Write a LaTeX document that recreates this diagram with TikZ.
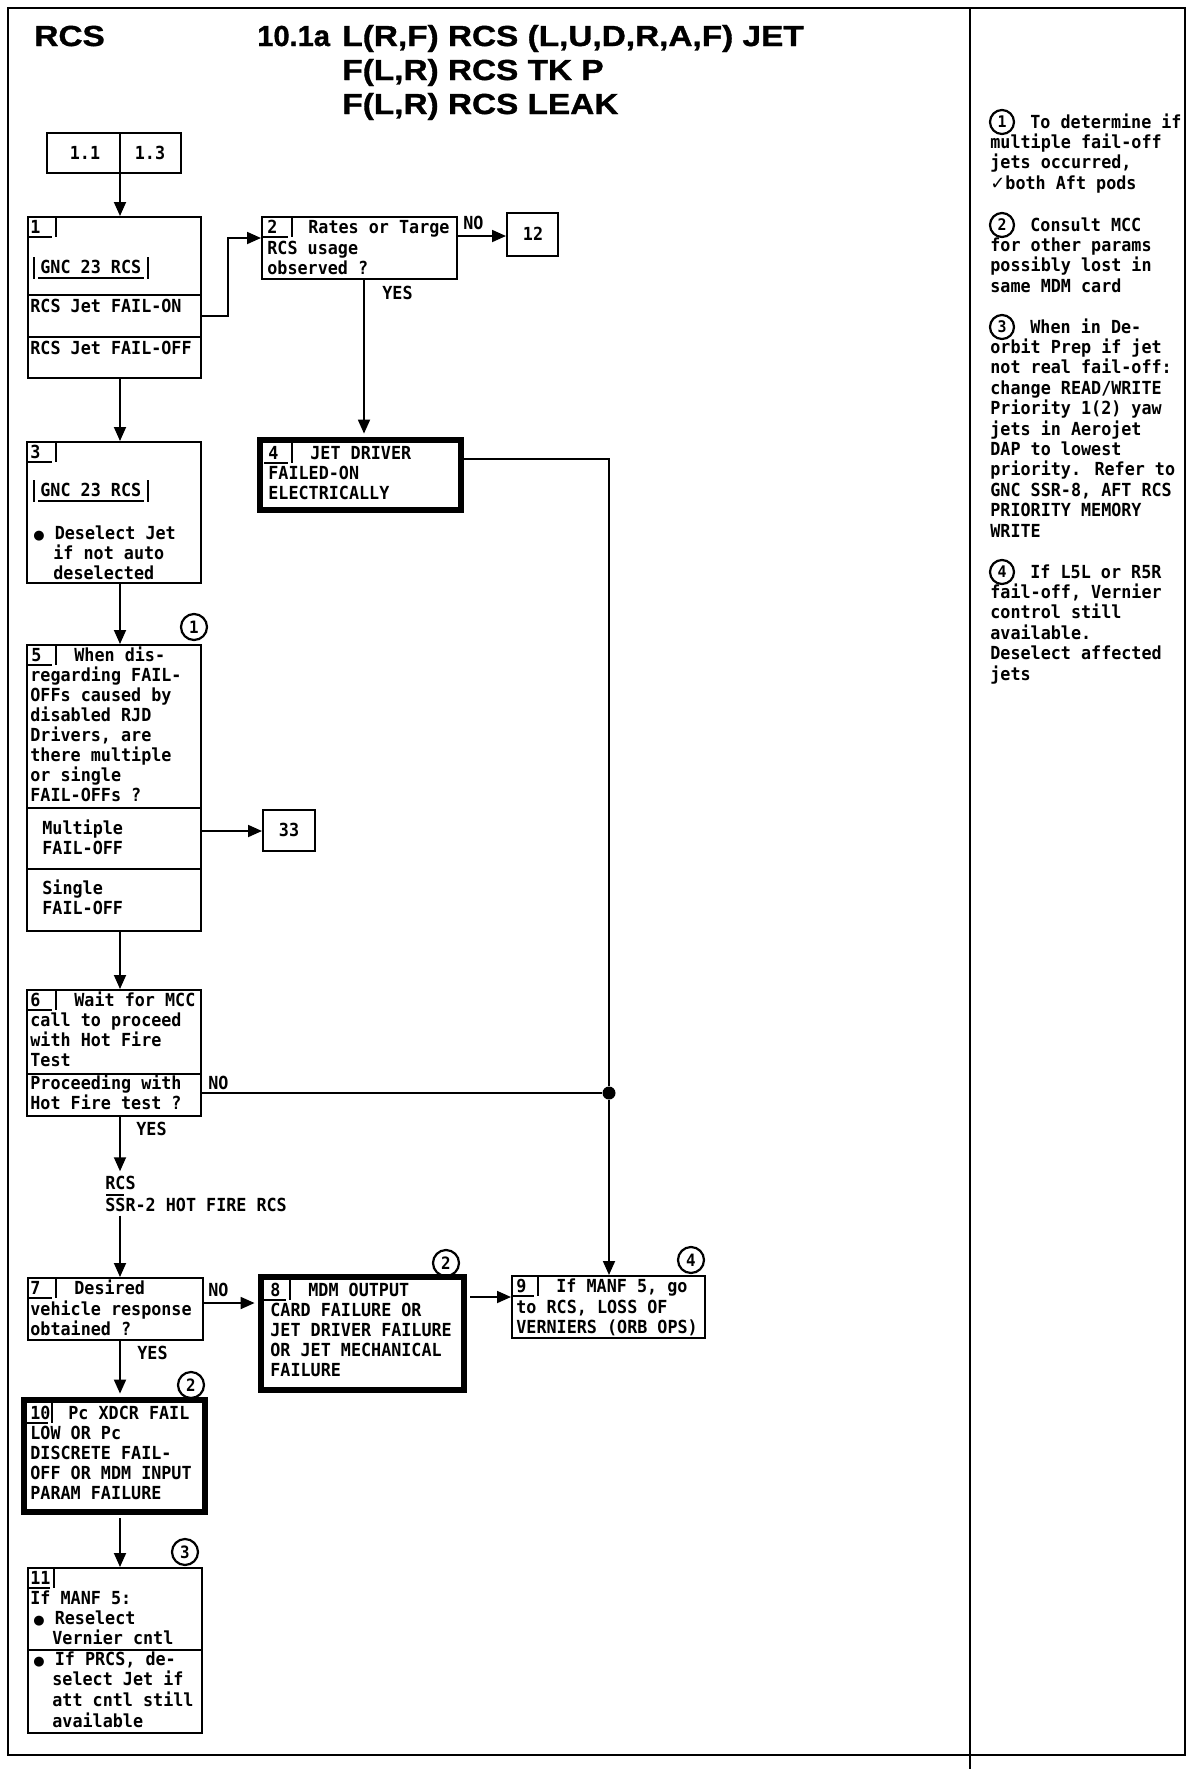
\documentclass[tikz,border=0pt]{standalone}
\usepackage{fontspec}
\usetikzlibrary{arrows.meta,fit}
\newfontfamily\monof[FakeStretch=0.93]{DejaVu Sans Mono}
\newfontfamily\titlew[FakeStretch=1.15,FakeBold=1.2]{Liberation Sans Bold}
\newfontfamily\titlef[FakeBold=1.2]{Liberation Sans Bold}
\newfontfamily\symf{DejaVu Sans}
\newcommand\bul{{\symf\fontsize{6.5}{10}\selectfont ●}}
\newcommand\tlines[5]{\foreach \s [count=\k from 0] in {#5} {\node[txt] (#1\k) at (#2, #3+#4*\k) {\s};}}
\newcommand\steptab[6]{%
  \node[txt] (#1) at (#2, #3+16) {#5};
  \draw[tabl] (#6, #3+20) -- (#4-4, #3+20);
  \draw[tabl] (#4, #3) -- (#4, #3+20);}
\tikzset{
  txt/.style={font=\monof\bfseries\fontsize{9}{10}\selectfont, inner sep=0pt, anchor=base west},
  ctxt/.style={font=\monof\bfseries\fontsize{9}{10}\selectfont, inner sep=0pt},
  ttl/.style={font=\titlew\fontsize{14.5}{17}\selectfont, inner sep=0pt, anchor=base west},
  ttln/.style={font=\titlef\fontsize{14.5}{17}\selectfont, inner sep=0pt, anchor=base west},
  box/.style={draw, line width=1pt, inner sep=0pt},
  thickbox/.style={draw, line width=3.2pt, inner sep=0pt},
  conn/.style={line width=0.9pt},
  arr/.style={conn, -{Triangle[length=7pt,width=6pt]}},
  tabl/.style={line width=0.8pt},
  sepl/.style={line width=1pt},
  circ/.style={circle, draw, line width=1.1pt, minimum size=13pt, inner sep=0pt, font=\monof\bfseries\fontsize{8.5}{10}\selectfont},
  ncirc/.style={circle, draw, line width=1.1pt, minimum size=12pt, inner sep=0pt, font=\monof\bfseries\fontsize{8}{10}\selectfont},
  frame/.style={line width=1.3pt},
}
\begin{document}
\begin{tikzpicture}[x=0.5pt,y=-0.5pt]
\useasboundingbox (0,0) rectangle (1189,1769);
% frame
\draw[frame] (8,8) rectangle (1185,1755);
\draw[frame] (970,8) -- (970,1769);
% title
\node[ttl] (t0) at (34,46) {RCS};
\node[ttln] (t1) at (257,46) {10.1a};
\node[ttl] (t2) at (342,46) {L(R,F) RCS (L,U,D,R,A,F) JET};
\node[ttl] (t3) at (342,80) {F(L,R) RCS TK P};
\node[ttl] (t4) at (342,114) {F(L,R) RCS LEAK};
% helper columns
\coordinate (cx) at (120,0);
\coordinate (cy) at (364,0);
% entry box
\node[box, fit={(47,133) (181,173)}] (bA) {};
\draw[box] (bA.north -| cx) -- (bA.south -| cx);
\node[ctxt] (bA1) at (85,153) {1.1};
\node[ctxt] (bA2) at (150,153) {1.3};
% box 1
\node[box, fit={(28,217) (201,378)}] (b1) {};
\steptab{b1n}{30}{217}{56}{1}{28}
\node[txt] (g1) at (40,273) {GNC 23 RCS};
\draw[tabl] (34,257) -- (34,279);
\draw[tabl] (148,257) -- (148,279);
\draw[tabl] (38,278) -- (144,278);
\draw[sepl] (b1.west |- 0,295) -- (b1.east |- 0,295);
\node[txt] (b1r1) at (30,312) {RCS Jet FAIL-ON};
\draw[sepl] (b1.west |- 0,337) -- (b1.east |- 0,337);
\node[txt] (b1r2) at (30,354) {RCS Jet FAIL-OFF};
% box 2
\node[box, fit={(262,217) (457,279)}] (b2) {};
\steptab{b2n}{267}{217}{292}{2}{262}
\node[txt] (b2a) at (308,233) {Rates or Targe};
\tlines{b2l}{267}{254}{20}{{RCS usage},{observed ?}}
\node[txt] (no2) at (463,229) {NO};
\node[txt] (yes2) at (382,299) {YES};
% box 12
\node[box, fit={(507,213) (558,256)}] (b12) {};
\node[ctxt] (b12t) at (533,234) {12};
% box 3
\node[box, fit={(27,442) (201,583)}] (b3) {};
\steptab{b3n}{30}{442}{56}{3}{27}
\node[txt] (g3) at (40,496) {GNC 23 RCS};
\draw[tabl] (34,480) -- (34,502);
\draw[tabl] (148,480) -- (148,502);
\draw[tabl] (38,501) -- (144,501);
\node[txt] (b3a) at (33,539) {\bul\ Deselect Jet};
\tlines{b3l}{53}{559}{20}{{if not auto},{deselected}}
% box 4
\node[thickbox, fit={(260,440) (461,510)}] (b4) {};
\steptab{b4n}{268}{443}{292}{4}{264}
\node[txt] (b4a) at (310,459) {JET DRIVER};
\tlines{b4l}{268}{479}{20}{{FAILED-ON},{ELECTRICALLY}}
% box 5
\node[box, fit={(27,645) (201,931)}] (b5) {};
\node[circ] (c5) at (194,627) {1};
\steptab{b5n}{31}{645}{56}{5}{27}
\node[txt] (b5a) at (74,661) {When dis-};
\tlines{b5l}{30}{681}{20}{{regarding FAIL-},{OFFs caused by},{disabled RJD},{Drivers, are},{there multiple},{or single},{FAIL-OFFs ?}}
\draw[sepl] (b5.west |- 0,808) -- (b5.east |- 0,808);
\tlines{b5m}{42}{834}{20}{{Multiple},{FAIL-OFF}}
\draw[sepl] (b5.west |- 0,869) -- (b5.east |- 0,869);
\tlines{b5s}{42}{894}{20}{{Single},{FAIL-OFF}}
% box 33
\node[box, fit={(263,810) (315,851)}] (b33) {};
\node[ctxt] (b33t) at (289,830) {33};
% box 6
\node[box, fit={(27,990) (201,1116)}] (b6) {};
\steptab{b6n}{30}{990}{56}{6}{27}
\node[txt] (b6a) at (74,1006) {Wait for MCC};
\tlines{b6l}{30}{1026}{20}{{call to proceed},{with Hot Fire},{Test}}
\draw[sepl] (b6.west |- 0,1074) -- (b6.east |- 0,1074);
\tlines{b6m}{30}{1089}{20}{{Proceeding with},{Hot Fire test ?}}
\node[txt] (no6) at (208,1089) {NO};
\node[txt] (yes6) at (136,1135) {YES};
\node[circle, fill, inner sep=0pt, minimum size=6.5pt] (dot) at (609,1093) {};
% reference
\node[txt] (refa) at (105,1189) {RCS};
\draw[tabl] (106,1195) -- (124,1195);
\node[txt] (refb) at (105,1211) {SSR-2 HOT FIRE RCS};
% box 7
\node[box, fit={(28,1278) (203,1340)}] (b7) {};
\steptab{b7n}{30}{1278}{56}{7}{28}
\node[txt] (b7a) at (74,1294) {Desired};
\tlines{b7l}{30}{1315}{20}{{vehicle response},{obtained ?}}
\node[txt] (no7) at (208,1296) {NO};
\node[txt] (yes7) at (137,1359) {YES};
% box 8
\node[thickbox, fit={(261,1277) (464,1390)}] (b8) {};
\node[circ] (c8) at (446,1263) {2};
\steptab{b8n}{270}{1280}{290}{8}{264}
\node[txt] (b8a) at (308,1296) {MDM OUTPUT};
\tlines{b8l}{270}{1316}{20}{{CARD FAILURE OR},{JET DRIVER FAILURE},{OR JET MECHANICAL},{FAILURE}}
% box 9
\node[box, fit={(512,1276) (705,1338)}] (b9) {};
\node[circ] (c9) at (691,1260) {4};
\steptab{b9n}{516}{1276}{538}{9}{512}
\node[txt] (b9a) at (556,1292) {If MANF 5, go};
\tlines{b9l}{516}{1313}{20}{{to RCS, LOSS OF},{VERNIERS (ORB OPS)}}
% box 10
\node[thickbox, fit={(24,1400) (205,1512)}] (b10) {};
\node[circ] (c10) at (191,1385) {2};
\steptab{b10n}{30}{1403}{52}{10}{27}
\node[txt] (b10a) at (68,1419) {Pc XDCR FAIL};
\tlines{b10l}{30}{1439}{20}{{LOW OR Pc},{DISCRETE FAIL-},{OFF OR MDM INPUT},{PARAM FAILURE}}
% box 11
\node[box, fit={(28,1568) (202,1733)}] (b11) {};
\node[circ] (c11) at (185,1552) {3};
\steptab{b11n}{30}{1568}{54}{11}{28}
\node[txt] (b11a) at (30,1604) {If MANF 5:};
\node[txt] (b11b) at (33,1624) {\bul\ Reselect};
\node[txt] (b11c) at (52,1644) {Vernier cntl};
\draw[sepl] (b11.west |- 0,1650) -- (b11.east |- 0,1650);
\node[txt] (b11d) at (33,1665) {\bul\ If PRCS, de-};
\tlines{b11l}{52}{1685}{21}{{select Jet if},{att cntl still},{available}}
% connectors
\coordinate (j1) at (228,316);
\coordinate (j2) at (228,238);
\coordinate (j3) at (480,236);
\coordinate (j4) at (230,831);
\coordinate (j5) at (609,459);
\coordinate (j6) at (400,1093);
\coordinate (j7) at (230,1303);
\coordinate (j8) at (490,1297);
\draw[arr] (bA.south -| cx) -- (b1.north -| cx);
\draw[arr] (j1 -| b1.east) -- (j1) -- (j2) -- (j2 -| b2.west);
\draw[arr] (j3 -| b2.east) -- (j3 -| b12.west);
\draw[arr, shorten >=1.6pt] (b2.south -| cy) -- (b4.north -| cy);
\draw[arr] (b1.south -| cx) -- (b3.north -| cx);
\draw[arr] (b3.south -| cx) -- (b5.north -| cx);
\draw[arr] (j4 -| b5.east) -- (j4 -| b33.west);
\draw[arr] (b5.south -| cx) -- (b6.north -| cx);
\draw[conn] (j5 -| b4.east) -- (j5) -- (dot);
\draw[arr] (dot) -- (dot |- b9.north);
\draw[conn] (j6 -| b6.east) -- (dot);
\draw[arr] (b6.south -| cx) -- ([yshift=2pt]refa.north -| cx);
\draw[arr] ([yshift=-2pt]refb.south -| cx) -- (b7.north -| cx);
\draw[arr, shorten >=1.6pt] (j7 -| b7.east) -- (j7 -| b8.west);
\draw[arr, shorten <=1.6pt] (j8 -| b8.east) -- (j8 -| b9.west);
\draw[arr, shorten >=1.6pt] (b7.south -| cx) -- (b10.north -| cx);
\draw[arr, shorten <=1.6pt] (b10.south -| cx) -- (b11.north -| cx);
% notes
\node[ncirc] (n1c) at (1002,122) {1};
\node[txt] (n1a) at (1030,128) {To determine if};
\tlines{n1l}{990}{148.4}{20.4}{{multiple fail-off},{jets occurred,},{{\symf ✓}both Aft pods}}
\node[ncirc] (n2c) at (1002,225) {2};
\node[txt] (n2a) at (1030,231) {Consult MCC};
\tlines{n2l}{990}{251.4}{20.4}{{for other params},{possibly lost in},{same MDM card}}
\node[ncirc] (n3c) at (1002,327) {3};
\node[txt] (n3a) at (1030,333) {When in De-};
\tlines{n3l}{990}{353.4}{20.4}{{orbit Prep if jet},{not real fail-off:},{change READ/WRITE},{Priority 1(2) yaw},{jets in Aerojet},{DAP to lowest},{priority. Refer to},{GNC SSR-8, AFT RCS},{PRIORITY MEMORY},{WRITE}}
\node[ncirc] (n4c) at (1002,572) {4};
\node[txt] (n4a) at (1030,578) {If L5L or R5R};
\tlines{n4l}{990}{598.4}{20.4}{{fail-off, Vernier},{control still},{available.},{Deselect affected},{jets}}
\end{tikzpicture}
\end{document}
